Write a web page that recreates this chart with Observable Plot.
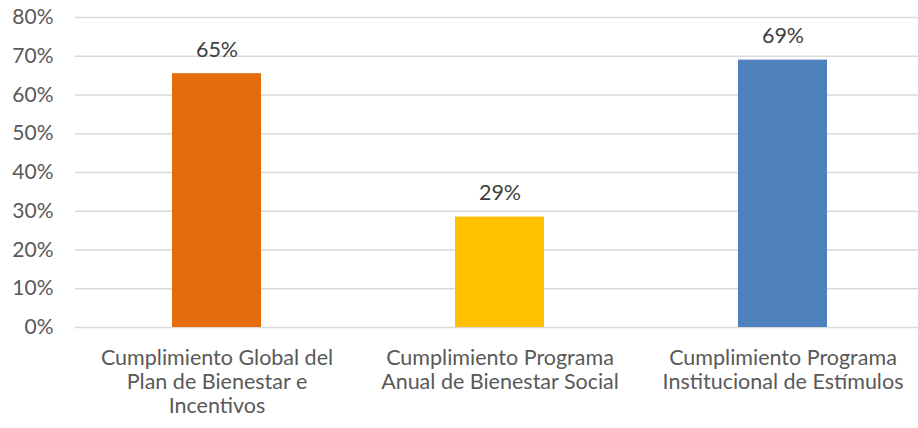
<!DOCTYPE html>
<html>
<head>
<meta charset="utf-8">
<script src="https://cdn.jsdelivr.net/npm/d3@7"></script>
<script src="https://cdn.jsdelivr.net/npm/@observablehq/plot@0.6"></script>
<style>
  body { margin: 0; background: #fff; overflow: hidden; }
  #chart svg { font-family: Lato, "Open Sans", sans-serif; }
</style>
</head>
<body>
<div id="chart"></div>
<script>
const categories = [
  "Cumplimiento Global del\nPlan de Bienestar e\nIncentivos",
  "Cumplimiento Programa\nAnual de Bienestar Social",
  "Cumplimiento Programa\nInstitucional de Estímulos"
];
const values = [0.655, 0.285, 0.69];
const valueLabels = ["65%", "29%", "69%"];
const colors = ["#E46C0A", "#FFC000", "#4F81BD"];
const yTicks = [0, 0.1, 0.2, 0.3, 0.4, 0.5, 0.6, 0.7, 0.8];

const data = categories.map((c, i) => ({cat: c, value: values[i], label: valueLabels[i], color: colors[i]}));

const chart = Plot.plot({
  width: 918,
  height: 428,
  marginTop: 17,
  marginBottom: 101,
  marginLeft: 75,
  marginRight: -6,
  style: {fontFamily: "Lato, 'Open Sans', sans-serif", fontSize: "22px", color: "#595959", background: "#fff", overflow: "hidden"},
  x: {domain: categories, paddingInner: 0.685, paddingOuter: 0.3425, label: null},
  y: {domain: [0, 0.8], label: null},
  marks: [
    Plot.ruleY(yTicks, {stroke: "#d9d9d9", strokeWidth: 1.5}),
    Plot.axisY({ticks: yTicks, tickSize: 0, tickPadding: 22, tickFormat: d => Math.round(d * 100) + "%", label: null, fontSize: 21, fill: "#595959"}),
    Plot.axisX({tickSize: 0, tickPadding: 20, label: null, fontSize: 21.5, fill: "#595959", lineHeight: 1.12, tickFormat: d => d}),
    Plot.barY(data, {x: "cat", y: "value", fill: "color"}),
    Plot.text(data, {x: "cat", y: "value", text: "label", dy: -24, fontSize: 21.5, fill: "#404040"})
  ]
});
document.getElementById("chart").appendChild(chart);
</script>
</body>
</html>
